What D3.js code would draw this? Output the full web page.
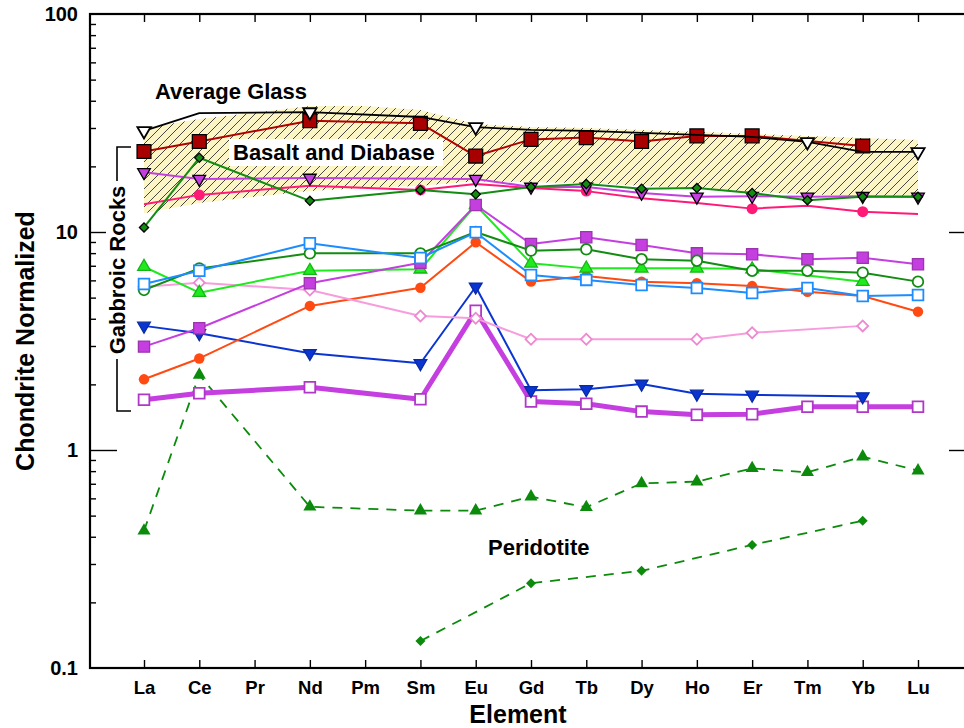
<!DOCTYPE html>
<html>
<head>
<meta charset="utf-8">
<script src="https://cdn.jsdelivr.net/npm/d3@7"></script>
<style>
body { margin: 0; background: #fff; }
svg text { font-family: "Liberation Sans", Arial, sans-serif; font-weight: bold; fill: #000; }
</style>
</head>
<body>
<div class="chart-wrapper"></div>
<script>
const elements = ['La', 'Ce', 'Pr', 'Nd', 'Pm', 'Sm', 'Eu', 'Gd', 'Tb', 'Dy', 'Ho', 'Er', 'Tm', 'Yb', 'Lu']
const yTicks = [0.1, 1, 10, 100]
const yMajorInner = [1, 10]

// shaded field of the basalt / diabase samples
const glassBandHigh = [30.0, 33.0, 35.2, 37.8, 37.8, 36.3, 31.3, 30.3, 30.0, 29.4, 28.8, 28.2, 27.6, 27.0, 26.4]
const glassBandLow = [12.2, 13.6, 14.5, 15.4, 15.9, 16.3, 17.1, 16.9, 16.8, 16.3, 15.8, 15.3, 14.9, 14.6, 14.5]

const averageGlass = [29.1, 35.1, null, 35.5, null, 33.7, 30.3, 29.4, 29.1, 28.5, 27.9, 27.3, 25.9, 23.3, 23.3]
const averageGlassMarked = ['La', 'Nd', 'Eu', 'Tm', 'Lu']
const basalt = [23.4, 26.0, null, 32.4, null, 31.5, 22.3, 26.6, 27.1, 26.0, 27.6, 27.6, null, 24.8, null]
const purpleTriangles = [18.8, 17.5, null, 17.7, null, null, 17.5, 16.1, 16.1, 15.1, 14.5, 14.6, 14.5, 14.6, 14.5]
const pinkDots = [13.4, 14.8, null, 16.3, null, 15.6, 16.6, 15.9, 15.4, 14.3, 13.6, 12.8, 13.2, 12.4, 12.1]
const pinkDotsMarked = ['Ce', 'Sm', 'Tb', 'Er', 'Yb']
const greenDiamonds = [10.5, 21.9, null, 13.9, null, 15.6, 14.9, 16.1, 16.6, 15.8, 15.9, 15.1, 14.0, 14.5, 14.5]

const blueOpenSquares = [5.77, 6.64, null, 8.88, null, 7.60, 9.97, 6.35, 6.03, 5.71, 5.53, 5.25, 5.53, 5.09, 5.14]
const greenOpenCircles = [5.42, 6.81, null, 7.98, null, 7.98, 10.0, 8.21, 8.33, 7.50, 7.38, 6.64, 6.64, 6.51, 5.92]
const limeTriangles = [6.93, 5.27, null, 6.64, null, 6.74, 13.3, 7.18, 6.81, 6.81, 6.81, 6.76, null, 5.92, null]
const lightPinkDiamonds = [5.61, 5.85, null, 5.42, null, 4.12, 4.02, 3.22, 3.22, null, 3.22, 3.45, null, 3.71, null]
const purpleSquares = [2.98, 3.62, null, 5.82, null, 7.23, 13.3, 8.81, 9.46, 8.72, 7.98, 7.90, 7.50, 7.62, 7.11]
const orangeDots = [2.11, 2.63, null, 4.58, null, 5.55, 8.97, 5.92, 6.28, 5.92, 5.82, 5.65, 5.32, 5.09, 4.31]
const blueTriangles = [3.71, 3.43, null, 2.78, null, 2.50, 5.61, 1.88, 1.90, 2.01, 1.81, 1.79, null, 1.76, null]
const thickPurple = [1.70, 1.82, null, 1.94, null, 1.71, 4.35, 1.67, 1.63, 1.50, 1.45, 1.46, 1.58, 1.58, 1.58]

const peridotiteTriangles = [0.426, 2.21, null, 0.549, null, 0.527, 0.527, 0.611, 0.546, 0.703, 0.716, 0.824, 0.790, 0.932, 0.804]
const peridotiteDiamonds = [null, null, null, null, null, 0.133, null, 0.245, null, 0.279, null, 0.367, null, 0.474, null]

const width = 964
const height = 728
const plot = {left: 90, right: 972, top: 14, bottom: 668}

let x = d3.scalePoint().domain(elements).range([144, 918])
let y = d3.scaleLog().domain([0.1, 100]).range([plot.bottom, plot.top])

const minorTicks = [0.1, 1, 10].flatMap(d => [2, 3, 4, 5, 6, 7, 8, 9].map(k => d * k))

// drawing order: bottom to top
const seriesList = [
	{values: peridotiteDiamonds, color: '#0b8a0b', fill: '#0b8a0b', stroke: 'none', shape: 'diamond', size: 50, width: 1.8, dash: '10,8'},
	{values: peridotiteTriangles, color: '#0b8a0b', fill: '#0b8a0b', stroke: 'none', shape: 'triUp', size: 74, width: 1.8, dash: '10,8'},
	{values: thickPurple, color: '#c43ee0', fill: '#fff', stroke: '#b038c8', shape: 'square', size: 115, width: 5},
	{values: blueTriangles, color: '#0a35d2', fill: '#0a35d2', stroke: '#0a2aa0', shape: 'triDown', size: 70, width: 2},
	{values: orangeDots, color: '#ff4a12', fill: '#ff4a12', stroke: 'none', shape: 'circle', size: 85, width: 2},
	{values: lightPinkDiamonds, color: '#f79cdc', fill: '#fff', stroke: '#ee88d0', shape: 'diamond', size: 60, width: 2},
	{values: limeTriangles, color: '#1eea1e', fill: '#1eea1e', stroke: '#14b814', shape: 'triUp', size: 70, width: 2},
	{values: purpleSquares, color: '#c43ee0', fill: '#c43ee0', stroke: '#9b34ae', shape: 'square', size: 125, width: 2},
	{values: greenOpenCircles, color: '#138c13', fill: '#fff', stroke: '#138c13', shape: 'circle', size: 88, width: 2},
	{values: blueOpenSquares, color: '#1c8cff', fill: '#fff', stroke: '#1c8cff', shape: 'square', size: 115, width: 2},
	{values: pinkDots, color: '#ff1a78', fill: '#ff1a78', stroke: 'none', shape: 'circle', size: 95, width: 2, marked: pinkDotsMarked},
	{values: purpleTriangles, color: '#c43ee0', fill: '#c43ee0', stroke: '#000', shape: 'triDown', size: 70, width: 2},
	{values: greenDiamonds, color: '#138c13', fill: '#138c13', stroke: '#000', shape: 'diamond', size: 42, width: 2},
	{values: basalt, color: '#b00000', fill: '#a80000', stroke: '#000', shape: 'square', size: 192, width: 2},
	{values: averageGlass, color: '#000', fill: '#fff', stroke: '#000', shape: 'triDown', size: 76, width: 1.8, marked: averageGlassMarked}
]

const symbolType = {square: d3.symbolSquare, circle: d3.symbolCircle, triUp: d3.symbolTriangle, triDown: d3.symbolTriangle, diamond: d3.symbolSquare}
const symbolTurn = {square: 0, circle: 0, triUp: 0, triDown: 180, diamond: 45}

let svg = d3.select('.chart-wrapper')
.append('svg')
.attr('width', width)
.attr('height', height)

let pattern = svg.append('defs').append('pattern')
.attr('id', 'hatch')
.attr('patternUnits', 'userSpaceOnUse')
.attr('width', 9)
.attr('height', 9)

pattern.append('rect')
.attr('width', 9)
.attr('height', 9)
.attr('fill', '#fcf6c6')

pattern.append('path')
.attr('d', 'M-2,2 L2,-2 M0,9 L9,0 M7,11 L11,7')
.attr('stroke', '#333')
.attr('stroke-width', 0.9)

let bandData = elements.map((el, i) => ({el: el, high: glassBandHigh[i], low: glassBandLow[i]}))

svg.append('path')
.datum(bandData)
.attr('fill', 'url(#hatch)')
.attr('d', d3.area()
	.x(d => x(d.el))
	.y0(d => y(d.low))
	.y1(d => y(d.high)))

let valueline = d3.line()
.x(d => x(d.el))
.y(d => y(d.v))

seriesList.forEach(s => {

	let pts = elements.map((el, i) => ({el: el, v: s.values[i]})).filter(d => d.v != null)

	svg.append('path')
	.datum(pts)
	.attr('fill', 'none')
	.attr('stroke', s.color)
	.attr('stroke-width', s.width)
	.attr('stroke-linejoin', 'round')
	.attr('stroke-dasharray', s.dash || null)
	.attr('d', valueline)

	let marked = s.marked ? pts.filter(d => s.marked.includes(d.el)) : pts

	svg.append('g')
	.selectAll('path')
	.data(marked)
	.join('path')
	.attr('transform', d => 'translate(' + x(d.el) + ',' + y(d.v) + ') rotate(' + symbolTurn[s.shape] + ')')
	.attr('d', d3.symbol(symbolType[s.shape], s.size))
	.attr('fill', s.fill)
	.attr('stroke', s.stroke)
	.attr('stroke-width', s.fill == '#fff' ? 1.8 : 1.3)
})

// ticks
function inner(g) {
	g.select('.domain').remove()
	g.selectAll('.tick line').attr('stroke', '#000').attr('stroke-width', 1.4)
}

svg.append('g')
.attr('transform', 'translate(' + plot.left + ',0)')
.call(d3.axisLeft(y).tickValues(minorTicks).tickSize(-6).tickFormat(''))
.call(inner)

svg.append('g')
.attr('transform', 'translate(' + plot.left + ',0)')
.call(d3.axisLeft(y).tickValues(yMajorInner).tickSize(-27).tickFormat(''))
.call(inner)

svg.append('g')
.attr('transform', 'translate(' + plot.right + ',0)')
.call(d3.axisRight(y).tickValues(yMajorInner).tickSize(-23).tickFormat(''))
.call(inner)

svg.append('g')
.attr('transform', 'translate(0,' + plot.top + ')')
.call(d3.axisTop(x).tickSize(-8).tickFormat(''))
.call(inner)

let xaxis = svg.append('g')
.attr('transform', 'translate(0,' + plot.bottom + ')')
.call(d3.axisBottom(x).tickSize(-8).tickPadding(13))
.call(inner)

xaxis.attr('font-size', 18.5)

let yaxis = svg.append('g')
.attr('transform', 'translate(' + plot.left + ',0)')
.call(d3.axisLeft(y).tickValues(yTicks).tickSize(0).tickPadding(12).tickFormat(d3.format('~g')))
.call(g => g.select('.domain').remove())

yaxis.attr('font-size', 20)

svg.append('rect')
.attr('x', plot.left)
.attr('y', plot.top)
.attr('width', plot.right - plot.left)
.attr('height', plot.bottom - plot.top)
.attr('fill', 'none')
.attr('stroke', '#000')
.attr('stroke-width', 2.2)

// axis titles
svg.append('text')
.attr('transform', 'translate(34,341) rotate(-90)')
.attr('text-anchor', 'middle')
.attr('font-size', 25)
.text('Chondrite Normalized')

svg.append('text')
.attr('x', 518)
.attr('y', 723)
.attr('text-anchor', 'middle')
.attr('font-size', 25)
.text('Element')

// annotations
svg.append('text')
.attr('x', 155)
.attr('y', 99)
.attr('font-size', 22)
.text('Average Glass')

svg.append('rect')
.attr('x', 229)
.attr('y', 139)
.attr('width', 214)
.attr('height', 27)
.attr('fill', '#fff')

svg.append('text')
.attr('x', 233)
.attr('y', 160)
.attr('font-size', 22)
.text('Basalt and Diabase')

svg.append('text')
.attr('x', 488)
.attr('y', 555)
.attr('font-size', 22)
.text('Peridotite')

svg.append('path')
.attr('d', 'M131,147 H117 V411 H131')
.attr('fill', 'none')
.attr('stroke', '#000')
.attr('stroke-width', 1.6)

svg.append('rect')
.attr('x', 106)
.attr('y', 181)
.attr('width', 23)
.attr('height', 178)
.attr('fill', '#fff')

svg.append('text')
.attr('transform', 'translate(117,270) rotate(-90)')
.attr('text-anchor', 'middle')
.attr('dy', '0.36em')
.attr('font-size', 22)
.text('Gabbroic Rocks')
</script>
</body>
</html>
